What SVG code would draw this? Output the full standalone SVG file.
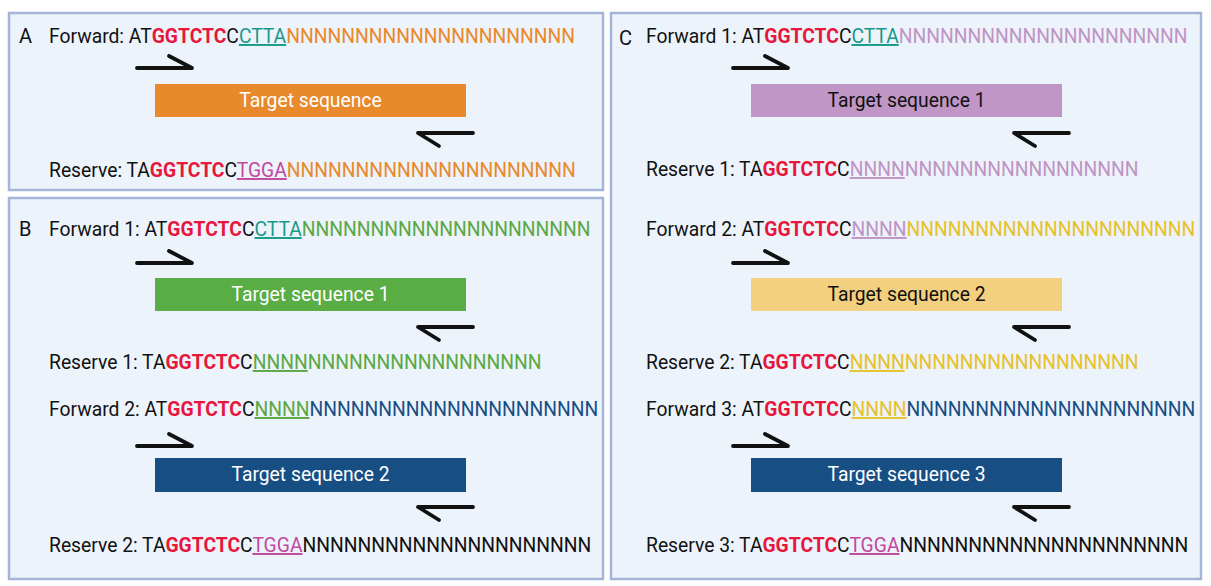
<svg xmlns="http://www.w3.org/2000/svg" width="1211" height="586" viewBox="0 0 1211 586">
<style>
text{font-family:Roboto,"Liberation Sans",sans-serif;font-size:19.3px;fill:#111}
.panel{fill:#edf3fb;stroke:#a4b5d8;stroke-width:2.5}
.b{font-weight:700;fill:#e8163c}
.u{text-decoration:underline}
.teal{fill:#17998a}
.mag{fill:#c2479e}
.or{fill:#e8892b}
.gr{fill:#5aa844}
.bl{fill:#174f85}
.pu{fill:#bf94c4}
.ye{fill:#e6c12a}
.k{fill:#111}
.lbl{text-anchor:middle}
.w{fill:#fff}
.arr{fill:none;stroke:#111;stroke-width:3.8;stroke-linecap:round;stroke-linejoin:round}
</style>
<rect width="1211" height="586" fill="#fff"/>
<g id="panels">
<rect class="panel" x="9" y="13" width="594" height="177"/>
<rect class="panel" x="9" y="198" width="594" height="381"/>
<rect class="panel" x="611" y="13" width="590" height="566"/>
</g>
<g id="panel-labels">
<text x="19" y="43" style="font-size:20px">A</text>
<text x="19" y="236" style="font-size:20px">B</text>
<text x="619" y="45" style="font-size:20px">C</text>
</g>
<g id="A-forward"><text x="49" y="43">Forward: AT<tspan class="b">GGTCTC</tspan>C<tspan class="teal u">CTTA</tspan><tspan class="or">NNNNNNNNNNNNNNNNNNNNN</tspan></text></g>
<g id="A-target"><rect x="155" y="84" width="311" height="33" fill="#e8892b"/><text class="lbl w" x="310.5" y="107">Target sequence</text></g>
<g id="A-reverse"><text x="49" y="177">Reserve: TA<tspan class="b">GGTCTC</tspan>C<tspan class="mag u">TGGA</tspan><tspan class="or">NNNNNNNNNNNNNNNNNNNNN</tspan></text></g>

<g id="B-forward1"><text x="49" y="236">Forward 1: AT<tspan class="b">GGTCTC</tspan>C<tspan class="teal u">CTTA</tspan><tspan class="gr">NNNNNNNNNNNNNNNNNNNNN</tspan></text></g>
<g id="B-target1"><rect x="155" y="278" width="311" height="33" fill="#5aac44"/><text class="lbl w" x="310.5" y="301">Target sequence 1</text></g>
<g id="B-reverse1"><text x="49" y="369">Reserve 1: TA<tspan class="b">GGTCTC</tspan>C<tspan class="gr u">NNNN</tspan><tspan class="gr">NNNNNNNNNNNNNNNNN</tspan></text></g>
<g id="B-forward2"><text x="49" y="416">Forward 2: AT<tspan class="b">GGTCTC</tspan>C<tspan class="gr u">NNNN</tspan><tspan class="bl">NNNNNNNNNNNNNNNNNNNNN</tspan></text></g>
<g id="B-target2"><rect x="155" y="458" width="311" height="34" fill="#174f85"/><text class="lbl w" x="310.5" y="481">Target sequence 2</text></g>
<g id="B-reverse2"><text x="49" y="552">Reserve 2: TA<tspan class="b">GGTCTC</tspan>C<tspan class="mag u">TGGA</tspan><tspan class="k">NNNNNNNNNNNNNNNNNNNNN</tspan></text></g>

<g id="C-forward1"><text x="646" y="43">Forward 1: AT<tspan class="b">GGTCTC</tspan>C<tspan class="teal u">CTTA</tspan><tspan class="pu">NNNNNNNNNNNNNNNNNNNNN</tspan></text></g>
<g id="C-target1"><rect x="751" y="84" width="311" height="33" fill="#c096c6"/><text class="lbl" x="906.5" y="107">Target sequence 1</text></g>
<g id="C-reverse1"><text x="646" y="176">Reserve 1: TA<tspan class="b">GGTCTC</tspan>C<tspan class="pu u">NNNN</tspan><tspan class="pu">NNNNNNNNNNNNNNNNN</tspan></text></g>
<g id="C-forward2"><text x="646" y="236">Forward 2: AT<tspan class="b">GGTCTC</tspan>C<tspan class="pu u">NNNN</tspan><tspan class="ye">NNNNNNNNNNNNNNNNNNNNN</tspan></text></g>
<g id="C-target2"><rect x="751" y="278" width="311" height="33" fill="#f2d07f"/><text class="lbl" x="906.5" y="301">Target sequence 2</text></g>
<g id="C-reverse2"><text x="646" y="369">Reserve 2: TA<tspan class="b">GGTCTC</tspan>C<tspan class="ye u">NNNN</tspan><tspan class="ye">NNNNNNNNNNNNNNNNN</tspan></text></g>
<g id="C-forward3"><text x="646" y="416">Forward 3: AT<tspan class="b">GGTCTC</tspan>C<tspan class="ye u">NNNN</tspan><tspan class="bl">NNNNNNNNNNNNNNNNNNNNN</tspan></text></g>
<g id="C-target3"><rect x="751" y="458" width="311" height="34" fill="#174f85"/><text class="lbl w" x="906.5" y="481">Target sequence 3</text></g>
<g id="C-reverse3"><text x="646" y="552">Reserve 3: TA<tspan class="b">GGTCTC</tspan>C<tspan class="mag u">TGGA</tspan><tspan class="k">NNNNNNNNNNNNNNNNNNNNN</tspan></text></g>

<g id="connectors">
<path class="arr" d="M137 68H192L169 56"/>
<path class="arr" d="M473 133H418L439 146"/>
<path class="arr" d="M137 263H192L169 251"/>
<path class="arr" d="M473 327H418L439 340"/>
<path class="arr" d="M137 446H192L169 434"/>
<path class="arr" d="M473 507H418L439 520"/>
<path class="arr" d="M733 68H788L765 56"/>
<path class="arr" d="M1069 133H1014L1035 146"/>
<path class="arr" d="M733 263H788L765 251"/>
<path class="arr" d="M1069 327H1014L1035 340"/>
<path class="arr" d="M733 446H788L765 434"/>
<path class="arr" d="M1069 507H1014L1035 520"/>
</g>
</svg>
